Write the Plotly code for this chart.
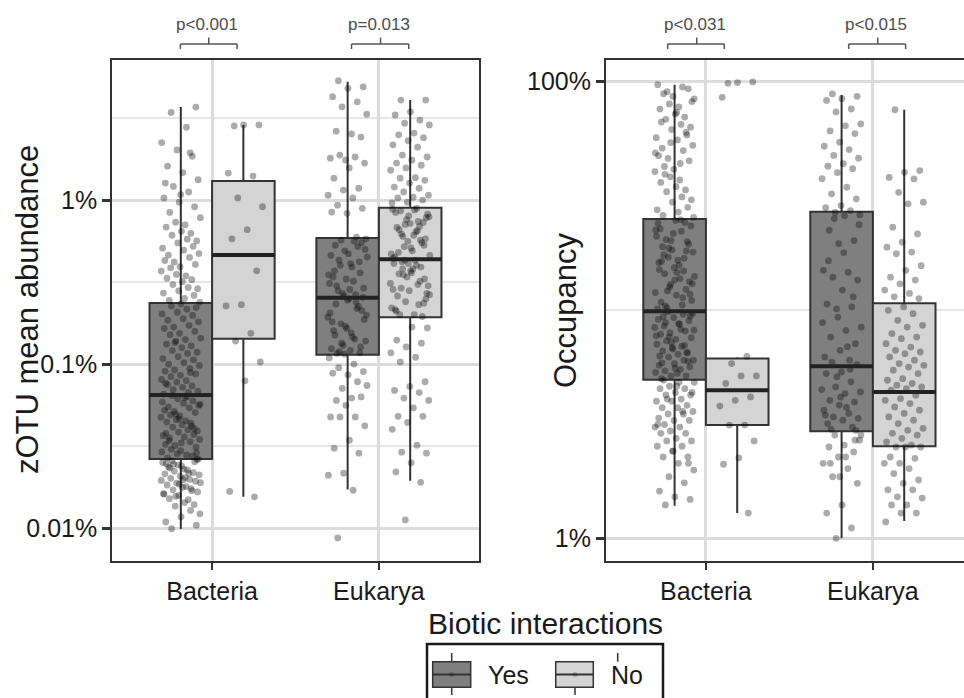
import plotly.graph_objects as go

# ---------------- data ----------------
categories = ["Bacteria", "Eukarya"]
legend_labels = ["Yes", "No"]

# box statistics, zOTU mean abundance (percent), per category
abund_yes_lower = [0.00986, 0.0172]
abund_yes_q1 = [0.0264, 0.114]
abund_yes_median = [0.0647, 0.2536]
abund_yes_q3 = [0.2355, 0.587]
abund_yes_upper = [3.69, 5.26]
abund_no_lower = [0.0155, 0.0194]
abund_no_q1 = [0.1426, 0.1927]
abund_no_median = [0.462, 0.435]
abund_no_q3 = [1.306, 0.898]
abund_no_upper = [2.87, 4.07]

# box statistics, occupancy (percent), per category
occ_yes_lower = [1.39, 1.0]
occ_yes_q1 = [4.95, 2.94]
occ_yes_median = [9.85, 5.66]
occ_yes_q3 = [25.0, 26.9]
occ_yes_upper = [96.7, 87.2]
occ_no_lower = [1.29, 1.19]
occ_no_q1 = [3.13, 2.53]
occ_no_median = [4.45, 4.37]
occ_no_q3 = [6.12, 10.7]
occ_no_upper = [6.2, 75.2]

# individual zOTUs, mean abundance (percent)
abund_bac_yes = [
    0.0099, 0.0104, 0.0117, 0.0109, 0.0128, 0.0136, 0.0122, 0.0143, 0.0151, 0.0139,
    0.0158, 0.0162, 0.0149, 0.0171, 0.0166, 0.0177, 0.0183, 0.0169, 0.0188, 0.0195,
    0.0179, 0.0201, 0.0193, 0.0207, 0.0214, 0.0198, 0.0222, 0.0211, 0.0229, 0.0236,
    0.0218, 0.0243, 0.0251, 0.0226, 0.0257, 0.0262, 0.0239, 0.0247, 0.0174, 0.0156,
    0.0189, 0.0203, 0.0232, 0.0254, 0.0185, 0.0161, 0.0216, 0.0245, 0.0263, 0.0197,
    0.0268, 0.0275, 0.0283, 0.0291, 0.0279, 0.0302, 0.0311, 0.0296, 0.0324, 0.0336,
    0.0318, 0.0347, 0.0359, 0.0341, 0.0372, 0.0385, 0.0366, 0.0398, 0.0412, 0.0391,
    0.0427, 0.0443, 0.0419, 0.0458, 0.0474, 0.0451, 0.0489, 0.0506, 0.0482, 0.0523,
    0.0541, 0.0514, 0.0559, 0.0577, 0.0548, 0.0596, 0.0615, 0.0586, 0.0634, 0.0642,
    0.0287, 0.0331, 0.0378, 0.0436, 0.0497, 0.0568, 0.0625, 0.0354, 0.0405, 0.0465,
    0.0655, 0.0672, 0.0698, 0.0684, 0.0721, 0.0749, 0.0735, 0.0776, 0.0805, 0.0792,
    0.0838, 0.0871, 0.0853, 0.0905, 0.0942, 0.0921, 0.0981, 0.1019, 0.0998, 0.106,
    0.111, 0.108, 0.116, 0.121, 0.118, 0.126, 0.132, 0.129, 0.138, 0.144,
    0.141, 0.151, 0.158, 0.154, 0.165, 0.172, 0.168, 0.181, 0.189, 0.185,
    0.198, 0.207, 0.202, 0.216, 0.226, 0.221, 0.233, 0.0763, 0.0889, 0.135,
    0.238, 0.251, 0.244, 0.262, 0.279, 0.271, 0.293, 0.305, 0.288, 0.318,
    0.334, 0.327, 0.352, 0.369, 0.345, 0.386, 0.405, 0.392, 0.428, 0.447,
    0.419, 0.471, 0.495, 0.462, 0.522, 0.548, 0.509, 0.577, 0.61, 0.563,
    0.645, 0.684, 0.627, 0.732, 0.781, 0.705, 0.84, 0.91, 0.97, 1.03,
    1.12, 1.21, 1.33, 1.47, 1.61, 1.85, 2.02, 2.24, 2.78, 3.42,
    3.69, 1.08, 1.27, 1.94,
]
abund_bac_no = [2.83, 2.87, 2.87, 1.46, 1.40, 1.03, 0.91, 0.66, 0.58, 0.37,
                0.23, 0.226, 0.154, 0.138, 0.103, 0.079, 0.0167, 0.0155]
abund_euk_yes = [
    5.34, 4.9, 4.8, 4.27, 3.97, 3.7, 3.34, 2.53, 2.63, 2.42,
    1.75, 1.8, 1.83, 1.88, 1.68, 1.57, 1.36, 1.18, 1.15, 1.07,
    1.03, 0.93, 0.89, 0.83, 0.845, 0.595, 0.57,
    0.58, 0.41, 0.53, 0.36, 0.49, 0.31, 0.56, 0.43, 0.29, 0.47,
    0.34, 0.52, 0.27, 0.45, 0.39, 0.3, 0.55, 0.33, 0.46, 0.265,
    0.4, 0.5, 0.285, 0.37, 0.42, 0.26, 0.35, 0.32, 0.28, 0.255,
    0.245, 0.181, 0.218, 0.134, 0.199, 0.155, 0.232, 0.127, 0.17, 0.205,
    0.142, 0.119, 0.187, 0.25, 0.16, 0.225, 0.13, 0.193, 0.146, 0.116,
    0.212, 0.165, 0.124, 0.238, 0.176, 0.138, 0.121, 0.15, 0.117, 0.115,
    0.109, 0.1, 0.095, 0.09, 0.086, 0.088, 0.078, 0.071, 0.074, 0.062,
    0.06, 0.063, 0.056, 0.0476, 0.0476, 0.0476, 0.042, 0.0343, 0.0307, 0.0286,
    0.0216, 0.021, 0.017, 0.0087,
]
abund_euk_no = [
    4.07, 4.07, 3.45, 3.3, 3.07, 2.94, 2.87, 2.56, 2.5, 2.4,
    2.3, 2.17, 2.1, 1.88, 1.83, 1.75, 1.68, 1.63, 1.57, 1.52,
    1.37, 1.36, 1.32, 1.27, 1.2, 1.18, 1.12, 1.07, 1.04, 1.03,
    1.0, 0.97, 0.96,
    0.89, 0.62, 0.78, 0.51, 0.84, 0.57, 0.71, 0.46, 0.87, 0.66,
    0.53, 0.8, 0.44, 0.74, 0.6, 0.82, 0.49, 0.68, 0.55, 0.76,
    0.47, 0.64, 0.86, 0.58, 0.72, 0.45, 0.69, 0.52, 0.79, 0.61,
    0.48, 0.73, 0.56, 0.88, 0.65,
    0.42, 0.27, 0.36, 0.21, 0.39, 0.24, 0.31, 0.43, 0.2, 0.33,
    0.28, 0.41, 0.23, 0.35, 0.3, 0.38, 0.26, 0.195, 0.34, 0.22,
    0.4, 0.29, 0.25, 0.37, 0.215, 0.32, 0.43, 0.265, 0.2, 0.355,
    0.235, 0.41, 0.285, 0.305, 0.38,
    0.166, 0.168, 0.14, 0.134, 0.127, 0.117, 0.11, 0.103, 0.078, 0.073,
    0.069, 0.067, 0.062, 0.06, 0.054, 0.048, 0.048, 0.044, 0.04, 0.032,
    0.029, 0.0286, 0.025, 0.022, 0.019, 0.0112,
]

# individual zOTUs, occupancy (percent)
occ_bac_yes = [
    1.40, 1.48, 1.52, 1.61, 1.75, 1.86, 1.99, 2.13, 2.27, 2.27,
    2.41, 2.53, 2.53, 2.67, 2.67, 2.74, 2.88, 2.88, 2.95, 3.07,
    3.07, 3.15, 3.28, 3.28, 3.36, 3.5, 3.5, 3.59, 3.73, 3.73,
    3.82, 3.98, 3.98, 4.07, 4.24, 4.24, 4.35, 4.52, 4.52, 4.63,
    4.82, 4.82, 4.93, 2.13, 2.41, 3.15, 3.59, 4.07, 4.35, 4.63,
    5.0, 5.14, 5.14, 5.32, 5.49, 5.41, 5.63, 5.81, 5.72, 6.02,
    6.21, 6.02, 6.39, 6.61, 6.48, 6.83, 7.07, 6.92, 7.31, 7.55,
    7.43, 7.82, 8.08, 7.94, 8.37, 8.65, 8.49, 8.96, 9.25, 9.08,
    9.56, 9.82, 9.64, 5.27, 5.86, 6.52, 7.19, 7.7, 8.22, 8.8,
    9.4, 5.55, 6.28, 6.99, 7.62, 8.15, 8.71, 9.33, 5.95, 6.74,
    10.1, 10.5, 10.2, 11.0, 11.6, 10.8, 12.3, 12.9, 11.9, 13.7,
    14.4, 13.3, 15.3, 16.1, 14.8, 17.0, 17.9, 16.5, 18.9, 19.9,
    18.3, 21.0, 22.1, 20.3, 23.3, 24.6, 22.6, 24.1, 12.6, 14.0,
    15.7, 17.4, 19.4, 21.6, 23.9, 11.3, 12.1, 13.0, 14.6, 16.3,
    18.1, 20.1, 22.3, 24.8, 10.4, 11.7, 13.5, 15.0, 16.8, 18.6,
    25.4, 26.8, 25.9, 28.1, 29.6, 27.4, 31.2, 32.9, 30.3, 34.6,
    36.1, 33.5, 38.2, 40.3, 37.0, 42.4, 44.9, 41.2, 47.3, 49.8,
    46.0, 52.5, 55.4, 51.0, 58.3, 61.5, 56.7, 64.8, 68.2, 63.0,
    71.9, 75.6, 69.8, 79.7, 83.9, 77.4, 88.3, 92.8, 85.9, 96.7,
    94.5, 90.1, 81.6, 73.1, 66.4, 59.8, 53.9, 48.6, 43.7, 39.2,
]
occ_bac_no = [98.0, 99.4, 98.8, 85.1, 6.26, 5.82, 5.14, 5.14, 4.76, 4.16,
              4.02, 3.79, 3.13, 3.13, 2.67, 2.25, 2.11, 1.29]
occ_euk_yes = [
    88.1, 86.0, 84.0, 82.5, 75.7, 73.5, 65.1, 63.9, 60.7, 59.1,
    54.2, 52.0, 50.3, 47.4, 46.1, 43.6, 42.5, 41.5, 39.9, 37.5,
    34.4, 32.2, 30.6, 28.6, 28.0, 27.2, 26.7, 26.1, 25.8,
    22.3, 20.1, 19.5, 14.9, 14.6, 13.9, 13.5, 12.2, 10.6, 10.3,
    10.1, 8.41, 8.13, 7.6, 7.11, 6.65, 6.22, 6.02, 25.1, 23.6,
    17.8, 16.4, 11.4, 9.3, 8.8, 6.9, 5.9, 5.75,
    5.35, 5.26, 4.84, 4.6, 4.37, 4.3, 4.02, 3.95, 3.83, 3.64,
    3.52, 3.4, 3.35, 3.29, 3.18, 3.07, 5.1, 4.48, 3.74, 3.0,
    2.97, 4.15, 3.46, 5.5,
    2.83, 2.69, 2.56, 2.51, 2.39, 2.27, 2.13, 2.02, 1.86, 1.74,
    1.40, 1.29, 1.11, 1.0, 2.83, 2.27, 2.13, 2.69, 1.86,
]
occ_euk_no = [
    75.2, 40.7, 40.0, 38.0, 37.4, 32.7, 29.6, 29.1, 23.0, 21.5,
    19.8, 18.8, 17.9, 17.6, 15.6, 14.9, 13.9, 13.5, 13.0, 12.2,
    11.8, 11.4, 11.2,
    10.3, 9.95, 9.62, 9.0, 8.56, 8.41, 7.87, 7.6, 7.48, 7.11,
    6.87, 6.65, 6.54, 6.43, 6.22, 6.02, 5.82, 5.72, 5.62, 5.44,
    5.26, 5.0, 4.92, 4.76, 4.68, 4.6, 4.52, 4.45,
    4.23, 4.09, 4.02, 3.89, 3.76, 3.64, 3.52, 3.40, 3.29, 3.18,
    3.03, 2.97, 2.88, 2.83, 2.74, 2.64, 2.56,
    2.51, 2.51, 2.51, 2.27, 2.24, 2.13, 2.13, 2.02, 1.92, 1.80,
    1.74, 1.63, 1.63, 1.52, 1.50, 1.40, 1.40, 1.29, 1.29, 1.18,
]

abund_tick_vals = [0.01, 0.1, 1]
abund_tick_text = ["0.01%", "0.1%", "1%"]
abund_minor_vals = [0.0316, 0.316, 3.16]
occ_tick_vals = [1, 100]
occ_tick_text = ["1%", "100%"]
occ_minor_vals = [10]

pvals_abund = ["p<0.001", "p=0.013"]
pvals_occ = ["p<0.031", "p<0.015"]

# ---------------- styling / layout ----------------
W, H = 964, 698
FONT = "Liberation Sans, Arial, Helvetica, sans-serif"
YES_FILL = "#7f7f7f"
NO_FILL = "#d4d4d4"
EDGE = "#333333"
PT = "rgba(0,0,0,0.33)"
GRID = "#dcdcdc"
GRID_MINOR = "#e6e6e6"
BOXW = 0.375
DODGE = 0.1875
JIT = 0.12


def px(x):
    return x / W


def py(y):
    return 1 - y / H


cat_pos = [1, 2]
yes_pos = [c - DODGE for c in cat_pos]
no_pos = [c + DODGE for c in cat_pos]


def jitter(n, center):
    return [center + (((i * 0.6180339887 + 0.27) % 1.0) - 0.5) * 2 * JIT for i in range(n)]


fig = go.Figure()


def add_boxes(xa, ya, pos, lo, q1, med, q3, hi, fill):
    fig.add_trace(go.Box(
        x=pos, q1=q1, median=med, q3=q3, lowerfence=lo, upperfence=hi,
        width=BOXW, fillcolor=fill, line=dict(color=EDGE, width=2),
        whiskerwidth=0, boxpoints=False, xaxis=xa, yaxis=ya,
        showlegend=False, hoverinfo="skip"))


add_boxes("x", "y", yes_pos, abund_yes_lower, abund_yes_q1, abund_yes_median,
          abund_yes_q3, abund_yes_upper, YES_FILL)
add_boxes("x", "y", no_pos, abund_no_lower, abund_no_q1, abund_no_median,
          abund_no_q3, abund_no_upper, NO_FILL)
add_boxes("x2", "y2", yes_pos, occ_yes_lower, occ_yes_q1, occ_yes_median,
          occ_yes_q3, occ_yes_upper, YES_FILL)
add_boxes("x2", "y2", no_pos, occ_no_lower, occ_no_q1, occ_no_median,
          occ_no_q3, occ_no_upper, NO_FILL)


def add_points(xa, ya, vals, center):
    fig.add_trace(go.Scatter(
        x=jitter(len(vals), center), y=vals, mode="markers",
        marker=dict(size=6.8, color=PT, line=dict(width=0)),
        xaxis=xa, yaxis=ya, showlegend=False, hoverinfo="skip"))


add_points("x", "y", abund_bac_yes, yes_pos[0])
add_points("x", "y", abund_bac_no, no_pos[0])
add_points("x", "y", abund_euk_yes, yes_pos[1])
add_points("x", "y", abund_euk_no, no_pos[1])
add_points("x2", "y2", occ_bac_yes, yes_pos[0])
add_points("x2", "y2", occ_bac_no, no_pos[0])
add_points("x2", "y2", occ_euk_yes, yes_pos[1])
add_points("x2", "y2", occ_euk_no, no_pos[1])


def add_medians(xa, ya, pos, med):
    xs, ys = [], []
    for p, m in zip(pos, med):
        xs += [p - BOXW / 2, p + BOXW / 2, None]
        ys += [m, m, None]
    fig.add_trace(go.Scatter(x=xs, y=ys, mode="lines",
                             line=dict(color="#222222", width=4),
                             xaxis=xa, yaxis=ya, showlegend=False, hoverinfo="skip"))


add_medians("x", "y", yes_pos, abund_yes_median)
add_medians("x", "y", no_pos, abund_no_median)
add_medians("x2", "y2", yes_pos, occ_yes_median)
add_medians("x2", "y2", no_pos, occ_no_median)

ydom = [py(561), py(60)]
xaxis_common = dict(
    type="linear", tickvals=cat_pos, ticktext=categories,
    showgrid=True, gridcolor=GRID, gridwidth=2.5, zeroline=False,
    showline=True, linecolor=EDGE, linewidth=1.5, mirror=True,
    ticks="outside", ticklen=7, tickwidth=2, tickcolor=EDGE,
    tickfont=dict(family=FONT, size=25, color="#1a1a1a"),
)
yaxis_common = dict(
    type="log", showgrid=True, gridcolor=GRID, gridwidth=2.5, zeroline=False,
    showline=True, linecolor=EDGE, linewidth=1.5,
    ticks="outside", ticklen=8, tickwidth=2.5, tickcolor=EDGE,
    tickfont=dict(family=FONT, size=25, color="#1a1a1a"),
    domain=ydom,
)

right_range_end = 0.4 + (964 - 605.7) / 167.0

fig.update_layout(
    width=W, height=H,
    margin=dict(l=0, r=0, t=0, b=0),
    paper_bgcolor="white", plot_bgcolor="white",
    font=dict(family=FONT, color="#1a1a1a"),
    xaxis=dict(xaxis_common, domain=[px(112), px(479)], range=[0.4, 2.6], anchor="y"),
    yaxis=dict(yaxis_common, range=[-2.201, 0.854], tickvals=abund_tick_vals,
               ticktext=abund_tick_text, mirror=True, anchor="x",
               minor=dict(tickvals=abund_minor_vals, showgrid=True,
                          gridcolor=GRID_MINOR, gridwidth=1.5)),
    xaxis2=dict(xaxis_common, domain=[px(605.7), 1.0], range=[0.4, right_range_end], anchor="y2"),
    yaxis2=dict(yaxis_common, range=[-0.0992, 2.0935], tickvals=occ_tick_vals,
                ticktext=occ_tick_text, mirror=False, anchor="x2",
                minor=dict(tickvals=occ_minor_vals, showgrid=True,
                           gridcolor=GRID_MINOR, gridwidth=1.5)),
    showlegend=False,
)

shapes = []
annotations = []

# significance brackets
brackets = [("x", 0.81, 1.15, 0.98, pvals_abund[0]),
            ("x", 1.836, 2.179, 2.01, pvals_abund[1]),
            ("x2", 0.771, 1.110, 0.945, pvals_occ[0]),
            ("x2", 1.855, 2.196, 2.029, pvals_occ[1])]
BR = "#555555"
for xr, x0, x1, xm, txt in brackets:
    for (a, b, c, d) in [(x0, 44, x1, 44), (x0, 44, x0, 49), (x1, 44, x1, 49), (xm, 44, xm, 37.5)]:
        shapes.append(dict(type="line", xref=xr, yref="paper", x0=a, x1=c,
                           y0=py(b), y1=py(d), line=dict(color=BR, width=1.5)))
    annotations.append(dict(xref=xr, yref="paper", x=xm - 0.01, y=py(24), text=txt,
                            showarrow=False, xanchor="center", yanchor="middle",
                            font=dict(family=FONT, size=17, color="#4d4d4d")))

# axis titles
annotations.append(dict(xref="paper", yref="paper", x=px(27), y=py(310),
                        text="zOTU mean abundance", textangle=-90, showarrow=False,
                        xanchor="center", yanchor="middle",
                        font=dict(family=FONT, size=31, color="#1a1a1a")))
annotations.append(dict(xref="paper", yref="paper", x=px(565), y=py(310),
                        text="Occupancy", textangle=-90, showarrow=False,
                        xanchor="center", yanchor="middle",
                        font=dict(family=FONT, size=31, color="#1a1a1a")))

# legend (drawn manually)
annotations.append(dict(xref="paper", yref="paper", x=px(545), y=py(623),
                        text="Biotic interactions", showarrow=False,
                        xanchor="center", yanchor="middle",
                        font=dict(family=FONT, size=30, color="#1a1a1a")))
shapes.append(dict(type="rect", xref="paper", yref="paper", x0=px(427), x1=px(663),
                   y0=py(703), y1=py(644), line=dict(color="#1a1a1a", width=2.5),
                   fillcolor="rgba(0,0,0,0)"))
keys = [(432.7, 470.7, 451.7, YES_FILL, legend_labels[0], 486),
        (555.7, 593.3, 575.0, NO_FILL, legend_labels[1], 608.7)]
for k, (kx0, kx1, kxm, fill, lab, tx) in enumerate(keys):
    shapes.append(dict(type="rect", xref="paper", yref="paper", x0=px(kx0), x1=px(kx1),
                       y0=py(687.3), y1=py(661.7), line=dict(color=EDGE, width=1.5),
                       fillcolor=fill))
    shapes.append(dict(type="line", xref="paper", yref="paper", x0=px(kx0), x1=px(kx1),
                       y0=py(674.5), y1=py(674.5), line=dict(color=EDGE, width=2)))
    shapes.append(dict(type="line", xref="paper", yref="paper", x0=px(kxm), x1=px(kxm),
                       y0=py(687.3), y1=py(695), line=dict(color=EDGE, width=1.5)))
    upper_x = kxm if k == 0 else 617.7
    shapes.append(dict(type="line", xref="paper", yref="paper", x0=px(upper_x), x1=px(upper_x),
                       y0=py(653), y1=py(661.7), line=dict(color=EDGE, width=1.5)))
    shapes.append(dict(type="circle", xref="paper", yref="paper",
                       x0=px(kxm - 2.5), x1=px(kxm + 2.5), y0=py(677), y1=py(672),
                       line=dict(width=0), fillcolor="rgba(0,0,0,0.2)"))
    annotations.append(dict(xref="paper", yref="paper", x=px(tx), y=py(675), text=lab,
                            showarrow=False, xanchor="left", yanchor="middle",
                            font=dict(family=FONT, size=25, color="#1a1a1a")))

fig.update_layout(shapes=shapes, annotations=annotations)

fig.write_html("out.html")
